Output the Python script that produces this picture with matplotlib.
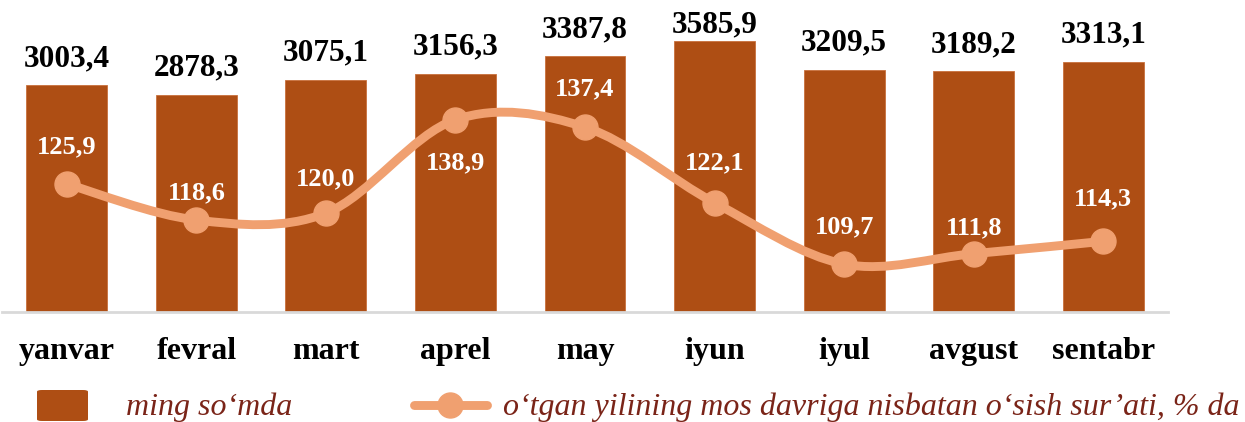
import numpy as np
import matplotlib
matplotlib.use("Agg")
import matplotlib.pyplot as plt
from matplotlib.patches import FancyBboxPatch
from matplotlib.path import Path
from matplotlib.patches import PathPatch
from matplotlib.lines import Line2D

months = ["yanvar", "fevral", "mart", "aprel", "may", "iyun", "iyul", "avgust", "sentabr"]
amounts = [3003.4, 2878.3, 3075.1, 3156.3, 3387.8, 3585.9, 3209.5, 3189.2, 3313.1]
growth = [125.9, 118.6, 120.0, 138.9, 137.4, 122.1, 109.7, 111.8, 114.3]
amount_labels = ["3003,4", "2878,3", "3075,1", "3156,3", "3387,8", "3585,9", "3209,5", "3189,2", "3313,1"]
growth_labels = ["125,9", "118,6", "120,0", "138,9", "137,4", "122,1", "109,7", "111,8", "114,3"]
legend_bar = "ming so\u2018mda"
legend_line = "o\u2018tgan yilining mos davriga nisbatan o\u2018sish sur\u2019ati, % da"

# label vertical offsets for line labels (pixels, positive = above)
label_off_px = [37, 27, 34, -43, 38, 40, 37, 26, 43]

BAR = "#AE4E14"
LINE = "#F0A070"
TXT = "#7A2418"
SERIF = ["Liberation Serif", "DejaVu Serif"]

W, H = 1245, 422
fig = plt.figure(figsize=(W / 100, H / 100), dpi=100)
ax_l, ax_r = 2 / W, 1168 / W
ax_b, ax_t = (H - 312) / H, (H - 10) / H
ax = fig.add_axes([ax_l, ax_b, ax_r - ax_l, ax_t - ax_b])
ax2 = ax.twinx()

x = np.arange(len(months))
ax.bar(x, amounts, width=0.625, color=BAR, edgecolor="#C8703C", linewidth=0.6, zorder=2)
ax.set_xlim(-0.5, len(months) - 0.5)
ax.set_ylim(0, 4000)
ax2.set_ylim(100, 161.1)

for a in (ax, ax2):
    for s in a.spines.values():
        s.set_visible(False)
    a.set_yticks([])
ax.spines["bottom"].set_visible(True)
ax.spines["bottom"].set_color("#D9D9D9")
ax.spines["bottom"].set_linewidth(2)
ax.set_xticks(x)
ax.set_xticklabels(months, fontsize=23, fontweight="bold", family=SERIF)
ax.tick_params(axis="x", length=0, pad=18)

# bar value labels: 19 px above bar, but kept inside the figure top (baseline >= 32 px from top)
for xi, v, lab in zip(x, amounts, amount_labels):
    px, py = ax.transData.transform((xi, v))
    base_py = min(py + 19, H - 32)
    _, base_v = ax.transData.inverted().transform((px, base_py))
    ax.text(xi, base_v, lab, ha="center", va="baseline", fontsize=22.5,
            fontweight="bold", family=SERIF, color="black")

# smooth (Catmull-Rom / Bezier) line through points
xs = list(x.astype(float))
ys = list(growth)
P = list(zip(xs, ys))
verts = [P[0]]
codes = [Path.MOVETO]
n = len(P)
for i in range(n - 1):
    p0 = P[i - 1] if i > 0 else P[i]
    p1 = P[i]
    p2 = P[i + 1]
    p3 = P[i + 2] if i + 2 < n else P[i + 1]
    c1 = (p1[0] + (p2[0] - p0[0]) / 6, p1[1] + (p2[1] - p0[1]) / 6)
    c2 = (p2[0] - (p3[0] - p1[0]) / 6, p2[1] - (p3[1] - p1[1]) / 6)
    verts += [c1, c2, p2]
    codes += [Path.CURVE4] * 3
ax2.add_patch(PathPatch(Path(verts, codes), facecolor="none", edgecolor=LINE,
                        linewidth=6.4, capstyle="round", zorder=3))
ax2.plot(x, growth, "o", color=LINE, markersize=18, zorder=4)

for xi, v, lab, off in zip(x, growth, growth_labels, label_off_px):
    ax2.annotate(lab, (xi, v), xytext=(0, off * 0.72), textcoords="offset points",
                 ha="center", va="center", fontsize=19, fontweight="bold",
                 family=SERIF, color="white", zorder=5)

# legend (drawn manually in figure coords)
fig.patches.append(FancyBboxPatch((37 / W, (H - 421) / H), 51 / W, 31 / H,
                                  boxstyle="round,pad=0,rounding_size=0.004",
                                  transform=fig.transFigure, facecolor=BAR,
                                  edgecolor="none"))
fig.text(126 / W, (H - 407) / H, legend_bar, fontsize=23, style="italic",
         family=SERIF, color=TXT, va="center", ha="left")
fig.add_artist(Line2D([414 / W, 487 / W], [(H - 405) / H] * 2, color=LINE,
                      linewidth=6.4, solid_capstyle="round", transform=fig.transFigure))
fig.add_artist(Line2D([450 / W], [(H - 405) / H], marker="o", markersize=18,
                      color=LINE, transform=fig.transFigure))
fig.text(503 / W, (H - 407) / H, legend_line, fontsize=23, style="italic",
         family=SERIF, color=TXT, va="center", ha="left")

fig.savefig("out.png", dpi=100)
